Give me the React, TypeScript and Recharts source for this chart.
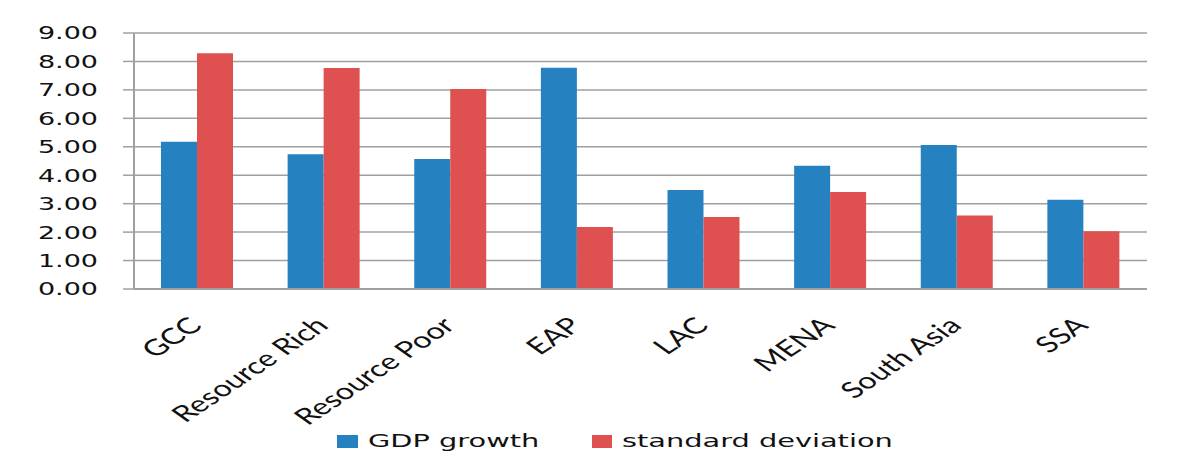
import { BarChart, Bar, XAxis, YAxis, CartesianGrid } from 'recharts';

const regions = ['GCC', 'Resource Rich', 'Resource Poor', 'EAP', 'LAC', 'MENA', 'South Asia', 'SSA'];
const gdpGrowth = [5.18, 4.74, 4.57, 7.78, 3.48, 4.33, 5.06, 3.14];
const stdDev = [8.29, 7.77, 7.03, 2.18, 2.53, 3.41, 2.58, 2.03];
const yTicks = [0, 1, 2, 3, 4, 5, 6, 7, 8, 9];
const edgeTicks = [0, 1, 2, 3, 4, 5, 6, 7, 8];

const data = regions.map((region, i) => ({
  region,
  gdp: gdpGrowth[i],
  sd: stdDev[i],
}));

const BLUE = '#2681c1';
const RED = '#df5050';
const GRID = '#a0a0a0';
const STRETCH = 1.5;

function YTick({ y, payload }: any) {
  return (
    <text
      transform={`translate(98, ${y}) scale(${STRETCH}, 1)`}
      textAnchor="end"
      dy="0.36em"
      fontFamily="DejaVu Sans"
      fontSize={18}
      fill="#111"
    >
      {payload.value.toFixed(2)}
    </text>
  );
}

function XTick({ x, payload }: any) {
  return (
    <text
      transform={`translate(${x + 6}, 327) scale(1.45, 1) rotate(-44)`}
      textAnchor="end"
      fontFamily="Lato"
      fontSize={22.5}
      fill="#111"
    >
      {payload.value}
    </text>
  );
}

// legend drawn by hand so the stretched text can match the original
function LegendItem({ color, label, left, width }: { color: string; label: string; left: number; width: number }) {
  return (
    <div style={{ position: 'absolute', left, top: 434, display: 'flex', alignItems: 'center' }}>
      <div style={{ width, height: 13, background: color }} />
      <span
        style={{
          marginLeft: 10,
          fontFamily: 'DejaVu Sans',
          fontSize: 18,
          lineHeight: '14px',
          color: '#111',
          display: 'inline-block',
          transform: 'scale(1.6, 1)',
          transformOrigin: 'left center',
          whiteSpace: 'nowrap',
        }}
      >
        {label}
      </span>
    </div>
  );
}

export default function App() {
  return (
    <div style={{ position: 'relative', margin: -8, width: 1197, height: 466, background: '#ececec', overflow: 'hidden' }}>
      <div style={{ position: 'absolute', left: 7, top: 8, right: 0, bottom: 0, background: '#fff' }} />
      <div style={{ position: 'absolute', left: 0, top: 459, width: 7, height: 7, background: '#0b5e9e' }} />
      <div style={{ position: 'absolute', left: 0, top: 0 }}>
        <BarChart
          width={1197}
          height={466}
          data={data}
          margin={{ top: 33, right: 50, left: 0, bottom: 0 }}
          barGap={0}
          barSize={36}
        >
          <CartesianGrid vertical={false} stroke={GRID} strokeWidth={1.5} />
          <XAxis
            xAxisId="edges"
            type="number"
            domain={[0, 8]}
            ticks={edgeTicks}
            height={0}
            axisLine={false}
            tickLine={{ stroke: GRID, strokeWidth: 2 }}
            tickSize={7}
            tickFormatter={() => ''}
          />
          <XAxis
            dataKey="region"
            interval={0}
            height={177}
            axisLine={{ stroke: GRID, strokeWidth: 2 }}
            tickLine={false}
            tick={<XTick />}
          />
          <YAxis
            width={134}
            domain={[0, 9]}
            ticks={yTicks}
            interval={0}
            axisLine={{ stroke: GRID, strokeWidth: 2 }}
            tickLine={{ stroke: GRID, strokeWidth: 1.5 }}
            tickSize={11}
            tick={<YTick />}
          />
          <Bar dataKey="gdp" name="GDP growth" fill={BLUE} isAnimationActive={false} />
          <Bar dataKey="sd" name="standard deviation" fill={RED} isAnimationActive={false} />
        </BarChart>
      </div>
      <LegendItem color={BLUE} label="GDP growth" left={337} width={21} />
      <LegendItem color={RED} label="standard deviation" left={592} width={20} />
    </div>
  );
}
